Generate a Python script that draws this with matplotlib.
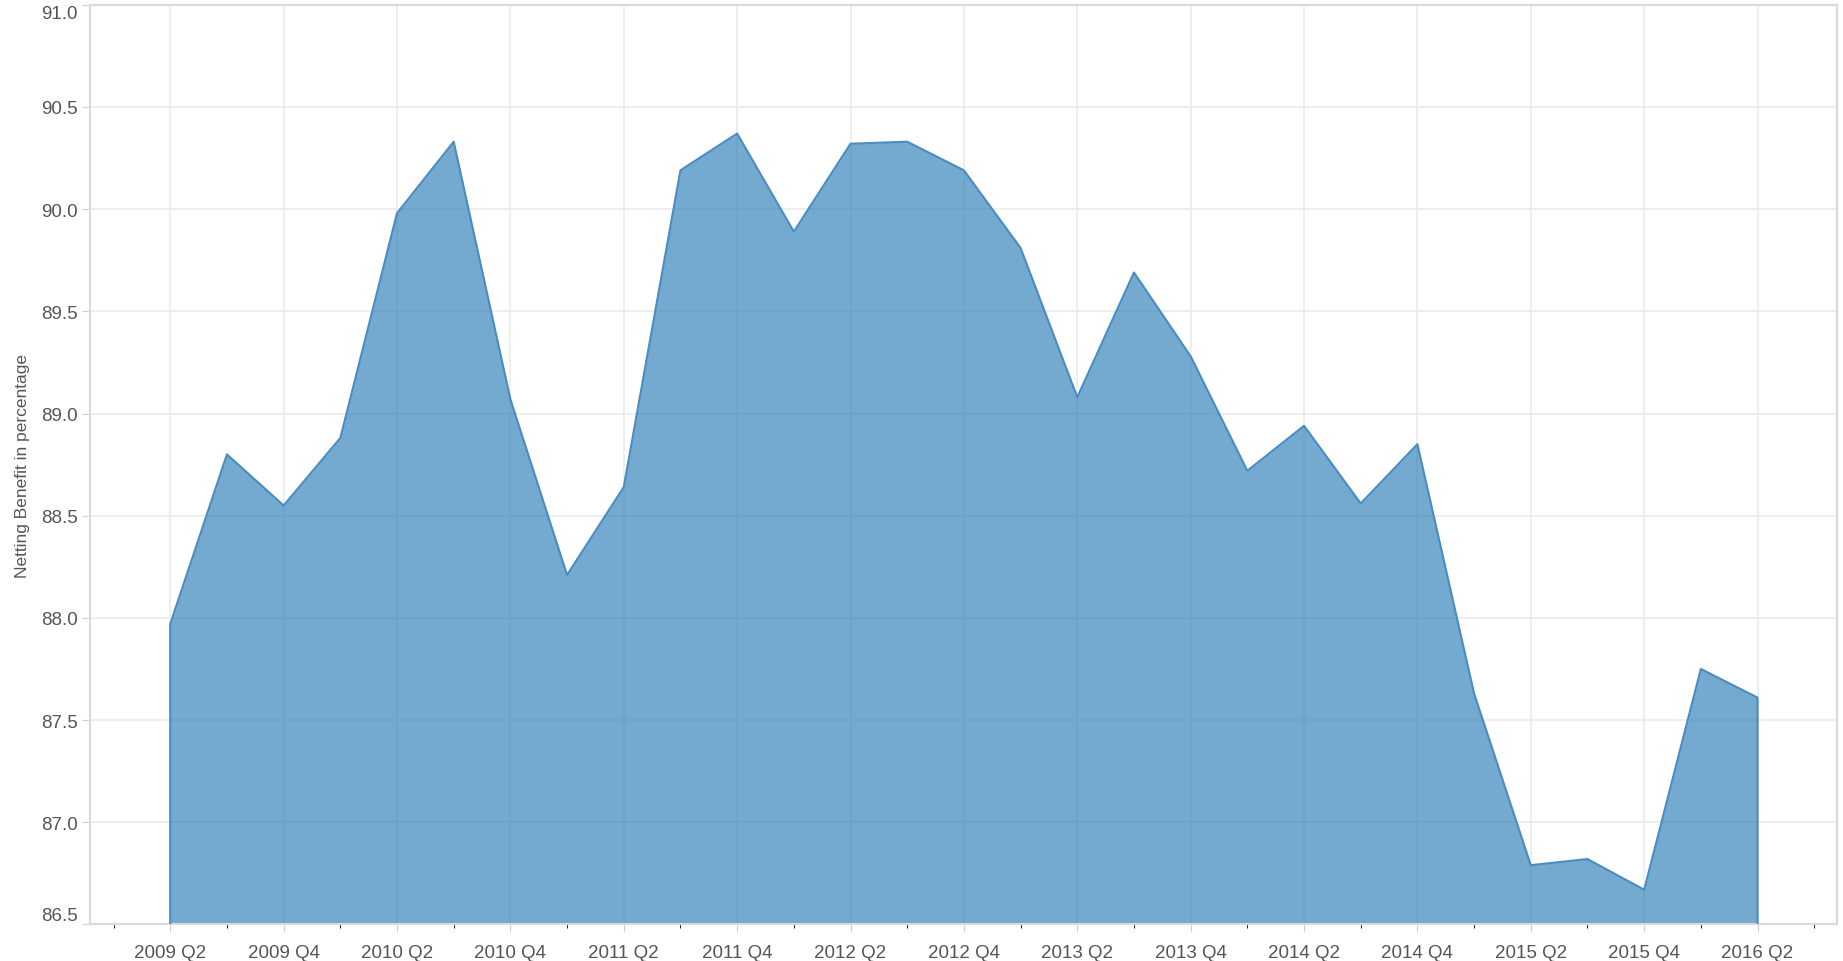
import matplotlib.pyplot as plt
import numpy as np

# quarters 2009 Q2 .. 2016 Q2
quarters = [f"{y} Q{q}" for y in range(2009, 2017) for q in range(1, 5)][1:30]
netting = [87.97, 88.80, 88.55, 88.88, 89.98, 90.33, 89.07, 88.21, 88.64, 90.19,
           90.37, 89.89, 90.32, 90.33, 90.19, 89.81, 89.08, 89.69, 89.28, 88.72,
           88.94, 88.56, 88.85, 87.63, 86.79, 86.82, 86.67, 87.75, 87.61]

plt.rcParams['font.family'] = ['Liberation Sans', 'DejaVu Sans']

fig = plt.figure(figsize=(18.43, 9.62), dpi=100)
ax = fig.add_axes([0.049, 0.038, 0.948, 0.956])

x = np.arange(len(quarters))
ax.fill_between(x, netting, 86.5, color='#1f77b4', alpha=0.62, linewidth=0, zorder=2)
ax.plot(np.r_[x[0], x, x[-1]], np.r_[86.5, netting, 86.5], color='#4a8bc2', lw=1.5, zorder=3)

yt = np.arange(86.5, 91.01, 0.5)
ax.set_ylim(86.5, 91.0)
ax.set_yticks(yt)
ax.set_yticklabels([f"{v:.1f}" for v in yt])
ax.set_xlim(-1.41, len(quarters) - 1 + 1.41)
ax.set_xticks(x[::2])
ax.set_xticklabels(quarters[::2])
ax.set_xticks(np.arange(-1, len(quarters) + 1), minor=True)

ax.grid(True, which='major', color='#ebebeb', lw=1.2, zorder=1)
ax.set_axisbelow(True)
for s in ax.spines.values():
    s.set_color('#d9d9d9')
    s.set_linewidth(1.5)
ax.tick_params(axis='both', colors='#d0d0d0', labelcolor='#555555', labelsize=13.5)
ax.tick_params(axis='x', which='major', length=6, pad=8)
ax.tick_params(axis='x', which='minor', length=3)
ax.tick_params(axis='y', length=6, pad=3)
ax.set_ylabel("Netting Benefit in percentage", fontsize=12.5, color='#555555', labelpad=8)

# keep the end labels inside the plot, as in the original
ylabels = ax.get_yticklabels()
ylabels[0].set_verticalalignment('bottom')
ylabels[-1].set_verticalalignment('top')

fig.savefig("out.png", dpi=100)
